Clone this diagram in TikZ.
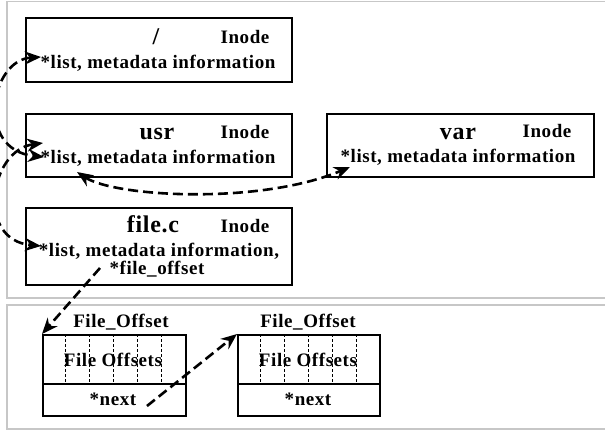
\documentclass[tikz,border=0pt]{standalone}
\usepackage{fontspec}
\setmainfont{Liberation Serif}[LetterSpace=3]
\usetikzlibrary{arrows.meta,positioning}

\begin{document}
\begin{tikzpicture}[x=1pt,y=-1pt,
  panel/.style={draw=black!22,line width=1.5pt},
  inode/.style={rectangle,draw,line width=1.8pt,inner sep=0pt,
                anchor=north west,minimum width=266pt},
  offbox/.style={rectangle,draw,line width=1.8pt,inner sep=0pt,
                 anchor=north west,minimum width=143pt},
  lbl/.style={anchor=base,inner sep=0pt,font=\fontsize{19}{21}\selectfont\bfseries},
  big/.style={anchor=base,inner sep=0pt,font=\fontsize{24}{26}\selectfont\bfseries},
  slot/.style={dash pattern=on 3pt off 2pt,line width=0.9pt},
  link/.style={dash pattern=on 10pt off 5pt,line width=2.6pt,
               {Stealth[length=16pt,width=13pt]}-{Stealth[length=16pt,width=13pt]}},
  onelink/.style={dash pattern=on 10pt off 5pt,line width=2.6pt,
                  -{Stealth[length=16pt,width=13pt]}}
]
\useasboundingbox (0,0) rectangle (605,431);
\clip (0,0) rectangle (605,431);

% panels
\draw[panel] (7,1.5) rectangle (615,298);
\draw[panel] (7,305) rectangle (615,429);

% inodes
\node[inode,minimum height=64pt] (root) at (25,17) {};
\node[inode,minimum height=63pt] (usr)  at (25,113) {};
\node[inode,minimum height=63pt,minimum width=267pt] (var) at (326,113) {};
\node[inode,minimum height=77pt] (file) at (25,207) {};

\node[big] (rootname) at (156,44) {/};
\node[lbl] (rootkind) at (245,43) {Inode};
\node[lbl] (rootlist) at (158,68) {*list, metadata information};

\node[big] (usrname) at (157,139) {usr};
\node[lbl] (usrkind) at (245,138) {Inode};
\node[lbl] (usrlist) at (158,163) {*list, metadata information};

\node[big] (varname) at (458,139) {var};
\node[lbl] (varkind) at (547,137) {Inode};
\node[lbl] (varlist) at (458,162) {*list, metadata information};

\node[big] (filename) at (153,232) {file.c};
\node[lbl] (filekind) at (245,232) {Inode};
\node[lbl] (filelist) at (159,256) {*list, metadata information,};
\node[lbl] (fileoff) at (157,274) {*file\_offset};

% file offset blocks
\node[offbox,minimum height=49pt] (offa) at (42,334) {};
\node[offbox,minimum height=32pt] (offanext) at (42,383) {};
\node[offbox,minimum height=49pt,minimum width=142pt] (offb) at (237,334) {};
\node[offbox,minimum height=32pt,minimum width=142pt] (offbnext) at (237,383) {};
\foreach \bx in {42,237}
  \foreach \i in {1,...,5}
    \draw[slot] (\bx+\i*23.8,334) -- ++(0,49);

\node[lbl] (offatitle) at (121,327) {File\_Offset};
\node[lbl] (offbtitle) at (308,327) {File\_Offset};
\node[lbl] (offatext) at (113,366) {File Offsets};
\node[lbl] (offbtext) at (308,366) {File Offsets};
\node[lbl] (offanexttext) at (113,405) {*next};
\node[lbl] (offbnexttext) at (308,405) {*next};

% link ends
\coordinate (roothook) at (41,57);
\coordinate (usrhooka) at (43,143);
\coordinate (usrhookb) at (44,157);
\coordinate (filehook) at (41,246);
\coordinate (usrhookc) at (77,172);
\coordinate (varhook) at (350,167);
\coordinate (fileout) at (100,268);
\coordinate (nextout) at (147,406);

\draw[link] (roothook) .. controls (-10,60) and (-25,150) .. (usrhookb);
\draw[link] (usrhooka) .. controls (-10,150) and (-25,240) .. (filehook);
\draw[link] (usrhookc) .. controls (115,197) and (260,205) .. (varhook);
\draw[onelink] (fileout) -- (offa.north west);
\draw[onelink] (nextout) -- (offb.north west);
\end{tikzpicture}
\end{document}
